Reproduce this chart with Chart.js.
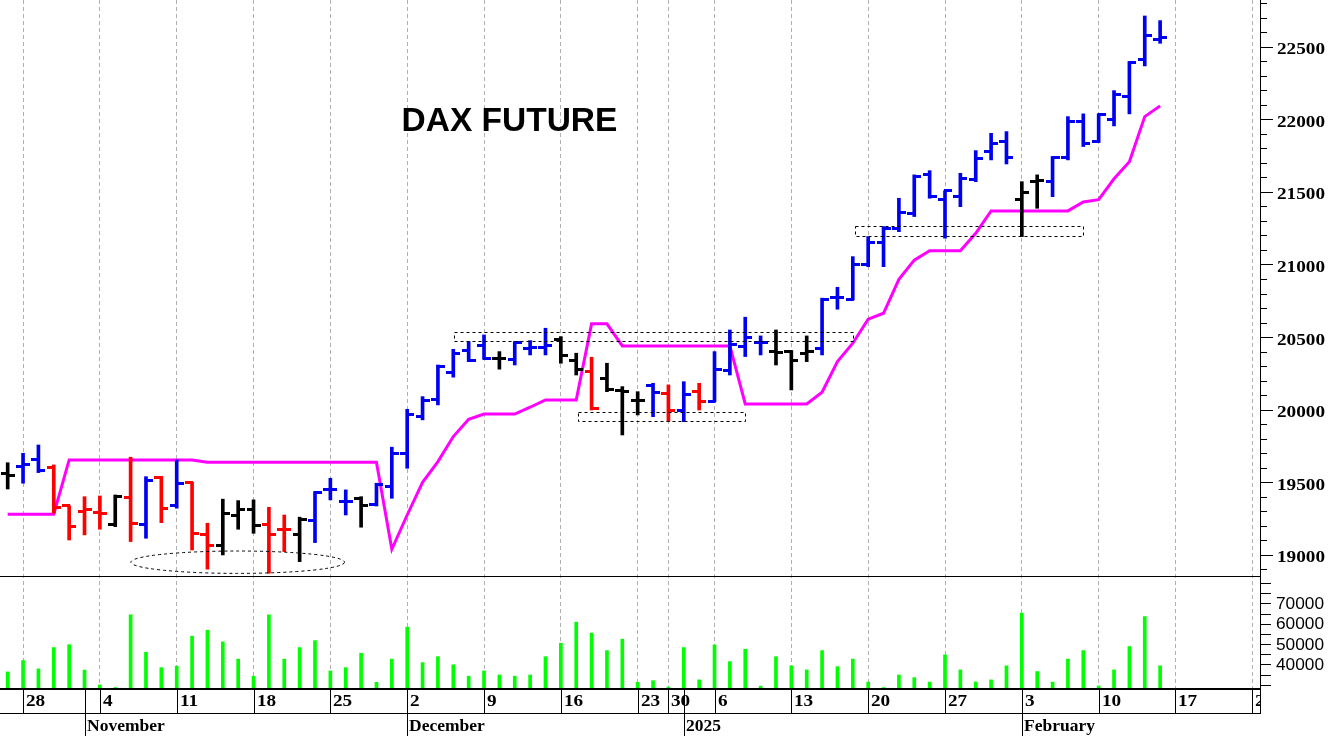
<!DOCTYPE html>
<html>
<head>
<meta charset="utf-8">
<script src="https://cdn.jsdelivr.net/npm/chart.js@4.4.1/dist/chart.umd.min.js"></script>
<style>
html,body{margin:0;padding:0;background:#fff;overflow:hidden}
#wrap{width:1331px;height:736px;position:relative}
</style>
</head>
<body>
<div id="wrap"><canvas id="c" width="1331" height="736"></canvas></div>
<script>
// ---------- DATA ----------
const dates = [
 '2024-10-25','2024-10-28','2024-10-29','2024-10-30','2024-10-31',
 '2024-11-01','2024-11-04','2024-11-05','2024-11-06','2024-11-07','2024-11-08',
 '2024-11-11','2024-11-12','2024-11-13','2024-11-14','2024-11-15',
 '2024-11-18','2024-11-19','2024-11-20','2024-11-21','2024-11-22',
 '2024-11-25','2024-11-26','2024-11-27','2024-11-28','2024-11-29',
 '2024-12-02','2024-12-03','2024-12-04','2024-12-05','2024-12-06',
 '2024-12-09','2024-12-10','2024-12-11','2024-12-12','2024-12-13',
 '2024-12-16','2024-12-17','2024-12-18','2024-12-19','2024-12-20',
 '2024-12-23','2024-12-27','2024-12-30',
 '2025-01-02','2025-01-03',
 '2025-01-06','2025-01-07','2025-01-08','2025-01-09','2025-01-10',
 '2025-01-13','2025-01-14','2025-01-15','2025-01-16','2025-01-17',
 '2025-01-20','2025-01-21','2025-01-22','2025-01-23','2025-01-24',
 '2025-01-27','2025-01-28','2025-01-29','2025-01-30','2025-01-31',
 '2025-02-03','2025-02-04','2025-02-05','2025-02-06','2025-02-07',
 '2025-02-10','2025-02-11','2025-02-12','2025-02-13','2025-02-14',
 '2025-02-17','2025-02-18','2025-02-19','2025-02-20','2025-02-21','2025-02-24'
];

// bar colour class per day: B = blue, R = red, K = black
const barClass = [
 'K','B','B','R','R',
 'R','R','K','R','B','R',
 'B','R','R','K','K',
 'K','R','R','K','B',
 'B','B','K','B','B',
 'B','B','B','B','B',
 'B','K','B','B','B',
 'K','K','R','K','K',
 'K','B','R',
 'B','R',
 'B','B','B','B','K',
 'K','K','B','B','B',
 'B','B','B','B','B',
 'B','B','B','B','B',
 'K','K','B','B','B',
 'B','B','B','B','B'
];

const openP = [
 19560,19610,19654,19604,19337,
 19300,19295,19213,19397,19213,19535,
 19337,19498,19138,19062,19275,
 19310,19213,19172,19138,19236,
 19448,19367,19390,19344,19470,
 19700,19952,20067,20255,20407,
 20440,20350,20347,20420,20425,
 20485,20336,20262,20217,20131,
 20062,20170,20109,
 19994,20124,
 20055,20269,20434,20462,20400,
 20400,20385,20423,20772,20761,
 21000,21150,21250,21353,21620,
 21444,21467,21582,21777,21846,
 21444,21570,21570,21739,21984,
 21846,21995,22156,22408,22551
];
const highP = [
 19635,19700,19757,19620,19337,
 19401,19406,19413,19673,19539,19540,
 19654,19500,19218,19384,19374,
 19379,19328,19275,19260,19436,
 19528,19448,19401,19494,19742,
 20003,20090,20308,20416,20469,
 20515,20400,20469,20476,20561,
 20503,20389,20361,20320,20159,
 20124,20182,20171,
 20193,20182,
 20400,20549,20637,20508,20549,
 20407,20508,20768,20843,21054,
 21192,21261,21456,21617,21646,
 21508,21628,21784,21903,21915,
 21570,21617,21743,22018,22037,
 22037,22197,22397,22711,22679
];
const lowP = [
 19454,19494,19567,19287,19103,
 19138,19177,19195,19092,19115,19222,
 19322,19034,18902,19000,19177,
 19149,18874,19023,18954,19085,
 19379,19275,19191,19337,19390,
 19597,19930,20033,20224,20331,
 20347,20279,20308,20377,20377,
 20320,20239,19998,20124,19826,
 19964,19952,19918,
 19918,19998,
 20055,20239,20366,20377,20308,
 20136,20331,20377,20692,20756,
 20985,20985,21226,21330,21456,
 21181,21398,21570,21720,21692,
 21192,21387,21467,21720,21812,
 21840,21954,22037,22367,22523
];
const closeP = [
 19545,19625,19580,19330,19195,
 19310,19285,19401,19218,19516,19322,
 19494,19149,19062,19282,19315,
 19200,19138,19172,19246,19429,
 19448,19367,19337,19482,19700,
 19969,20060,20297,20389,20338,
 20355,20355,20462,20425,20445,
 20370,20274,20005,20136,20125,
 20062,20118,19994,
 20102,20055,
 20274,20446,20499,20462,20395,
 20338,20400,20756,20772,20997,
 21150,21250,21357,21605,21467,
 21508,21589,21731,21835,21739,
 21495,21580,21739,21984,21835,
 22030,22167,22390,22580,22565
];
const volume = [
 36300,41900,37800,48300,49700,
 37200,29900,28600,64400,46000,38400,
 39100,53900,56800,51100,42600,
 34200,64400,42600,48300,51700,
 36800,38400,45500,31200,42600,
 58300,40900,43800,39800,34200,
 36800,34800,34200,34800,43800,
 50400,60800,55400,46800,52400,
 31200,32000,28900,
 48300,32400,
 49600,41400,47500,29300,43800,
 39300,37300,46800,38900,42600,
 31300,28600,34800,33500,31300,
 44700,37300,31400,32400,39300,
 65200,36500,31300,42600,46800,
 29400,37300,48800,63500,39300
];
// magenta stop line
const stopLine = [
 19280,19280,19280,19280,19654,
 19654,19654,19654,19654,19654,19654,
 19654,19654,19638,19638,19638,
 19638,19638,19638,19638,19638,
 19638,19638,19638,19638,19039,
 19275,19500,19643,19815,19934,
 19970,19970,19970,20017,20067,
 20067,20067,20591,20591,20439,
 20439,20439,20439,
 20439,20439,
 20439,20439,20040,20040,20040,
 20040,20040,20120,20331,20458,
 20623,20664,20898,21030,21095,
 21095,21095,21215,21369,21369,
 21369,21369,21369,21369,21430,
 21446,21590,21708,22018,22092
];

const priceTickLabels = ['19000','19500','20000','20500','21000','21500','22000','22500'];
const volumeTickLabels = ['40000','50000','60000','70000'];
const monthNames = ['January','February','March','April','May','June','July','August','September','October','November','December'];
const chartTitle = 'DAX FUTURE';

// dashed annotation boxes: [from day index, to day index, low price, high price]
const zoneBoxes = [
 [29.06, 55.0, 20474, 20535],
 [37.11, 47.96, 19925, 19987],
 [55.12, 69.96, 21196, 21265]
];
// dashed ellipse: [centre day index, centre price, half width in days, half height in points]
const zoneRing = [14.97, 18950, 6.95, 77];

// ---------- STYLE ----------
const classColor = { B: '#0000f0', R: '#ff0000', K: '#000000' };
function makeTick(color, side) {
  const c = document.createElement('canvas');
  c.width = 14; c.height = 3;
  const g = c.getContext('2d');
  g.fillStyle = color;
  if (side === 'L') g.fillRect(0, 0, 8, 3); else g.fillRect(6, 0, 8, 3);
  return c;
}
const tickImgs = {};
Object.keys(classColor).forEach(k => { tickImgs[k] = { L: makeTick(classColor[k], 'L'), R: makeTick(classColor[k], 'R') }; });

const parsed = dates.map(d => { const [y, m, dd] = d.split('-').map(Number); return { y, m: m - 1, d: dd, wd: new Date(Date.UTC(y, m - 1, dd)).getUTCDay() }; });
const isMonday = parsed.map(p => p.wd === 1);

function stretchText(ctx, text, x, y, sx) {
  ctx.save(); ctx.translate(x, y); ctx.scale(sx, 1); ctx.fillText(text, 0, 0); ctx.restore();
}

const decor = {
  id: 'decor',
  afterDatasetsDraw(chart) {
    const { ctx, scales: { x: xs, y: ys } } = chart;
    ctx.save();
    ctx.strokeStyle = '#000'; ctx.lineWidth = 1; ctx.setLineDash([3, 3]);
    zoneBoxes.forEach(([i0, i1, p0, p1]) => {
      const x0 = Math.round(xs.getPixelForValue(i0)) + 0.5;
      const x1 = Math.round(xs.getPixelForValue(i1)) + 0.5;
      const y0 = Math.round(ys.getPixelForValue(p0)) + 0.5;
      const y1 = Math.round(ys.getPixelForValue(p1)) + 0.5;
      ctx.strokeRect(x0, y1, x1 - x0, y0 - y1);
    });
    const [ci, cp, hw, hh] = zoneRing;
    const cx = xs.getPixelForValue(ci), cy = ys.getPixelForValue(cp);
    const rx = (xs.getPixelForValue(ci + hw) - xs.getPixelForValue(ci - hw)) / 2;
    const ry = (ys.getPixelForValue(cp - hh) - ys.getPixelForValue(cp + hh)) / 2;
    ctx.beginPath(); ctx.ellipse(cx, cy, rx, ry, 0, 0, Math.PI * 2); ctx.stroke();
    ctx.setLineDash([]);
    // title
    ctx.fillStyle = '#000';
    ctx.font = 'bold 33.5px "Liberation Sans", Arial, sans-serif';
    ctx.textBaseline = 'alphabetic'; ctx.textAlign = 'left';
    ctx.fillText(chartTitle, 401.5, 131);
    ctx.restore();
  },
  afterDraw(chart) {
    const { ctx, chartArea: ca, scales: { x: xs, y: ys, yv } } = chart;
    const R = Math.round(ca.right);
    const B = Math.round(ca.bottom);
    ctx.save();
    ctx.fillStyle = '#000';
    ctx.setLineDash([]);
    // panel separator, bottom rule, date row separator, right axis line
    ctx.fillRect(0, Math.round(ys.bottom), R, 1);
    ctx.fillRect(0, B, R, 2);
    ctx.fillRect(0, B + 25, R, 1);
    ctx.fillRect(R, 0, 1, B + 26);
    // price ticks
    for (let v = Math.ceil(ys.min / 100) * 100; v <= ys.max; v += 100) {
      const y = Math.round(ys.getPixelForValue(v));
      ctx.fillRect(R + 1, y, v % 500 === 0 ? 12 : 6, 1);
    }
    ctx.font = 'bold 17px "Liberation Serif", "Times New Roman", serif';
    ctx.textAlign = 'left'; ctx.textBaseline = 'alphabetic';
    priceTickLabels.forEach(t => {
      const y = ys.getPixelForValue(Number(t));
      stretchText(ctx, t, R + 17, y + 7.5, 1.13);
    });
    // volume ticks
    for (let v = Math.ceil(yv.min / 5000) * 5000; v <= yv.max; v += 5000) {
      const y = Math.round(yv.getPixelForValue(v));
      ctx.fillRect(R + 1, y, 10, 1);
    }
    ctx.font = '16px "Liberation Sans", Arial, sans-serif';
    volumeTickLabels.forEach(t => {
      const y = yv.getPixelForValue(Number(t));
      stretchText(ctx, t, R + 16, y + 5.5, 1.08);
    });
    // date axis
    ctx.save();
    ctx.beginPath(); ctx.rect(0, B, R, 736 - B); ctx.clip();
    parsed.forEach((p, i) => {
      const x = Math.round(xs.getPixelForValue(i));
      if (isMonday[i]) {
        ctx.fillRect(x, B + 2, 1, 23);
        ctx.font = 'bold 17px "Liberation Serif", "Times New Roman", serif';
        stretchText(ctx, String(p.d), x + 3, B + 18, 1.13);
      }
      if (i > 0 && p.m !== parsed[i - 1].m) {
        ctx.fillRect(x, B + 2, 1, 736 - B);
        ctx.font = 'bold 17.5px "Liberation Serif", "Times New Roman", serif';
        const lab = p.m === 0 ? String(p.y) : monthNames[p.m];
        ctx.fillText(lab, x + 2, B + 43);
      }
    });
    ctx.restore();
    ctx.restore();
  }
};

new Chart(document.getElementById('c'), {
  type: 'bar',
  data: {
    labels: dates,
    datasets: [
      { type: 'line', label: 'Open', data: openP, yAxisID: 'y', showLine: false, pointRadius: 3,
        pointStyle: c => tickImgs[barClass[c.dataIndex]].L, order: 0 },
      { type: 'line', label: 'Close', data: closeP, yAxisID: 'y', showLine: false, pointRadius: 3,
        pointStyle: c => tickImgs[barClass[c.dataIndex]].R, order: 0 },
      { type: 'bar', label: 'Range', data: lowP.map((l, i) => [l, highP[i]]), yAxisID: 'y',
        barThickness: 3, grouped: false, backgroundColor: c => classColor[barClass[c.dataIndex]], order: 1 },
      { type: 'line', label: 'Stop', data: stopLine, yAxisID: 'y', borderColor: '#ff00ff', borderWidth: 3,
        pointRadius: 0, tension: 0, fill: false, order: 2 },
      { type: 'bar', label: 'Volume', data: volume, yAxisID: 'yv', barThickness: 3, grouped: false,
        backgroundColor: '#00ff00', order: 3 }
    ]
  },
  options: {
    responsive: false,
    animation: false,
    devicePixelRatio: 1,
    events: [],
    layout: { padding: 0, autoPadding: false },
    plugins: { legend: { display: false }, tooltip: { enabled: false }, title: { display: false } },
    scales: {
      x: {
        type: 'category', position: 'bottom', offset: true,
        grid: { offset: false, drawTicks: false, lineWidth: 1,
                color: c => (c.index !== undefined && isMonday[c.index]) ? '#b0b0b0' : 'rgba(0,0,0,0)' },
        border: { display: false, dash: [4, 3] },
        ticks: { display: false, autoSkip: false },
        afterFit: s => { s.height = 48; }
      },
      y: {
        type: 'linear', position: 'right', stack: 'panels', stackWeight: 576,
        min: 18855, max: 22821, bounds: 'data', beginAtZero: false,
        grid: { display: false }, border: { display: false }, ticks: { display: false },
        afterFit: s => { s.width = 71; }
      },
      yv: {
        type: 'linear', position: 'right', stack: 'panels', stackWeight: 112,
        min: 28400, max: 83500, bounds: 'data', beginAtZero: false,
        grid: { display: false }, border: { display: false }, ticks: { display: false },
        afterFit: s => { s.width = 71; }
      }
    }
  },
  plugins: [decor]
});
</script>
</body>
</html>
